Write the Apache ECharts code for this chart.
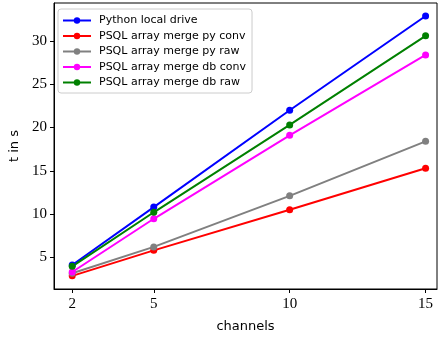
<!DOCTYPE html>
<html>
<head>
<meta charset="utf-8">
<script src="https://cdn.jsdelivr.net/npm/echarts@6/dist/echarts.min.js"></script>
<style>
  html, body { margin: 0; padding: 0; background: #fff; }
  #chart { width: 438px; height: 338px; }
</style>
</head>
<body>
<div id="chart"></div>
<script>
const channels = [2, 5, 10, 15];
const pythonLocal = [4.1, 10.8, 22.0, 32.9];
const pyConv = [2.85, 5.8, 10.5, 15.3];
const pyRaw = [3.15, 6.2, 12.1, 18.4];
const dbConv = [3.3, 9.45, 19.1, 28.4];
const dbRaw = [3.95, 10.2, 20.3, 30.6];
const xTicks = [2, 5, 10, 15];
const yTicks = [5, 10, 15, 20, 25, 30];

const names = ['Python local drive', 'PSQL array merge py conv', 'PSQL array merge py raw',
  'PSQL array merge db conv', 'PSQL array merge db raw'];
const colors = ['#0000ff', '#ff0000', '#808080', '#ff00ff', '#008000'];
const values = [pythonLocal, pyConv, pyRaw, dbConv, dbRaw];

const chart = echarts.init(document.getElementById('chart'));

const tickLabel = { fontFamily: 'Liberation Serif', fontSize: 15, color: '#000' };

chart.setOption({
  animation: false,
  grid: { left: 51, right: 1, top: 3, bottom: 44, show: true, borderColor: '#000', borderWidth: 1 },
  legend: {
    orient: 'vertical',
    left: 58, top: 9,
    data: names,
    itemWidth: 28, itemHeight: 8, itemGap: 4.5,
    padding: [6, 6, 5, 4],
    borderColor: '#cccccc', borderWidth: 1, borderRadius: 3,
    backgroundColor: '#fff',
    textStyle: { fontFamily: 'DejaVu Sans', fontSize: 11, color: '#000', padding: [0, 0, 0, 3] }
  },
  xAxis: {
    type: 'value', min: 1.33, max: 15.42,
    name: 'channels', nameLocation: 'middle', nameGap: 31,
    nameTextStyle: { fontFamily: 'DejaVu Sans', fontSize: 13, color: '#000' },
    axisLine: { lineStyle: { color: '#000' } },
    axisTick: { customValues: xTicks, length: 4, lineStyle: { color: '#000' } },
    axisLabel: Object.assign({ customValues: xTicks, margin: 8 }, tickLabel),
    splitLine: { show: false }
  },
  yAxis: {
    type: 'value', min: 1.33, max: 34.4,
    name: 't in s', nameLocation: 'middle', nameGap: 33,
    nameTextStyle: { fontFamily: 'DejaVu Sans', fontSize: 13, color: '#000' },
    axisLine: { show: true, lineStyle: { color: '#000' } },
    axisTick: { show: true, customValues: yTicks, length: 4, lineStyle: { color: '#000' } },
    axisLabel: Object.assign({ customValues: yTicks, margin: 7 }, tickLabel),
    splitLine: { show: false }
  },
  series: names.map((n, i) => ({
    name: n,
    type: 'line',
    data: channels.map((c, j) => [c, values[i][j]]),
    color: colors[i],
    symbol: 'circle', symbolSize: 7,
    lineStyle: { width: 2 },
    itemStyle: { color: colors[i] }
  }))
});
</script>
</body>
</html>
